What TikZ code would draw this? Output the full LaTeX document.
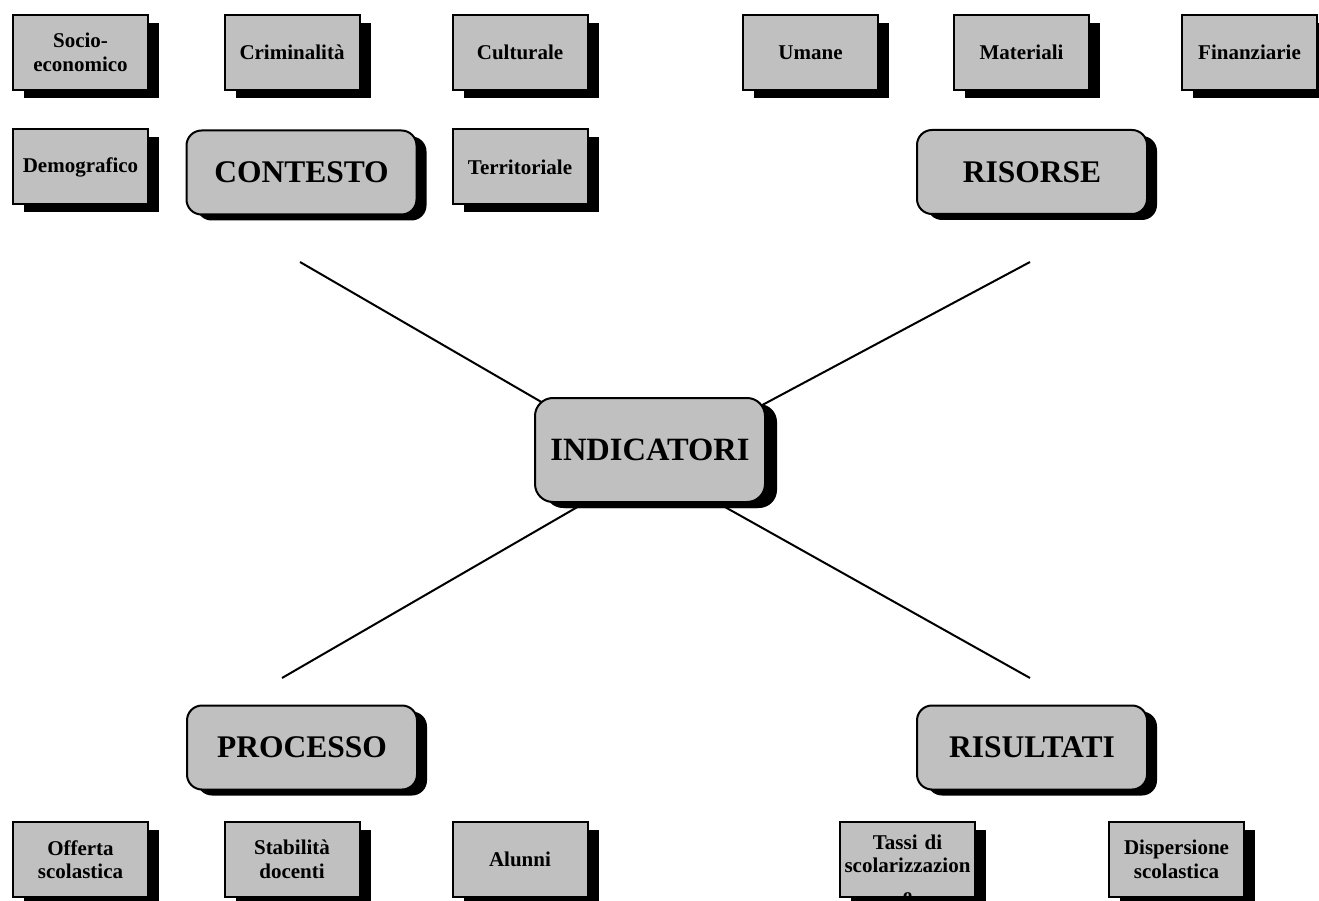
\documentclass[tikz,border=0pt]{standalone}
\usepackage{fontspec}
\setmainfont{Liberation Serif}
\usetikzlibrary{backgrounds,shadows}
\definecolor{boxgray}{RGB}{192,192,192}
\tikzset{
  smallbox/.style={draw=black, line width=2pt, fill=boxgray,
    minimum width=135pt, minimum height=75pt, inner sep=0pt,
    text width=133pt, align=center,
    font=\fontsize{21}{23.5}\selectfont\bfseries,
    drop shadow={shadow xshift=11pt, shadow yshift=-8pt, fill=black, opacity=1}},
  bigbox/.style={draw=black, line width=2pt, fill=boxgray, rounded corners=15pt,
    minimum width=230pt, minimum height=84pt, inner sep=0pt, align=center,
    font=\fontsize{31.5}{36}\selectfont\bfseries,
    drop shadow={shadow xshift=10pt, shadow yshift=-6pt, fill=black, opacity=1}},
  hubbox/.style={bigbox, rounded corners=18pt, minimum height=104pt,
    font=\fontsize{32.5}{36}\selectfont\bfseries,
    drop shadow={shadow xshift=12pt, shadow yshift=-6pt, fill=black, opacity=1}},
  spoke/.style={draw=black, line width=2pt},
  cliptext/.style={inner sep=0pt, text width=133pt, align=center,
    font=\fontsize{21}{23.5}\selectfont\bfseries}
}
\begin{document}
\begin{tikzpicture}[x=1pt, y=-1pt]
\useasboundingbox (0,0) rectangle (1319,901);

% CONTESTO group
\node[smallbox] (socio) at (80.5,52.5) {Socio-\\economico};
\node[smallbox] (crim) at (292,52.5) {Criminalità};
\node[smallbox] (cult) at (520,52.5) {Culturale};
\node[smallbox] (demo) at (80.5,167) {Demografico};
\node[smallbox] (terr) at (520,167) {Territoriale};
\node[bigbox] (contesto) at (301.5,172.5) {CONTESTO};

% RISORSE group
\node[smallbox] (umane) at (810.5,52.5) {Umane};
\node[smallbox] (mat) at (1021.5,52.5) {Materiali};
\node[smallbox] (fin) at (1249.5,52.5) {Finanziarie};
\node[bigbox] (risorse) at (1032,172) {RISORSE};

% hub
\node[hubbox] (ind) at (650,450) {INDICATORI};

% PROCESSO group
\node[bigbox] (processo) at (302,747.5) {PROCESSO};
\node[smallbox] (offerta) at (80.5,859.5) {Offerta\\scolastica};
\node[smallbox] (stab) at (292,859.5) {Stabilità\\docenti};
\node[smallbox] (alunni) at (520,859.5) {Alunni};

% RISULTATI group
\node[smallbox, path picture={
  \node[cliptext, anchor=north] at ([yshift=-8pt]path picture bounding box.north)
    {Tassi di\\scolarizzazion\\[6pt]e};}] (tassi) at (907.5,859.5) {};
\node[bigbox] (risultati) at (1032,747.5) {RISULTATI};
\node[smallbox] (disp) at (1176.5,859.5) {Dispersione\\scolastica};

% spokes
\coordinate (ul) at (300,262);
\coordinate (ur) at (1030,262);
\coordinate (ll) at (282,678);
\coordinate (lr) at (1030,678);
\begin{scope}[on background layer]
  \draw[spoke] (ul) -- ([yshift=-15pt]ind.center);
  \draw[spoke] (ur) -- ([yshift=-15pt]ind.center);
  \draw[spoke] (ll) -- ([yshift=-15pt]ind.center);
  \draw[spoke] (lr) -- ([yshift=-15pt]ind.center);
\end{scope}
\end{tikzpicture}
\end{document}
